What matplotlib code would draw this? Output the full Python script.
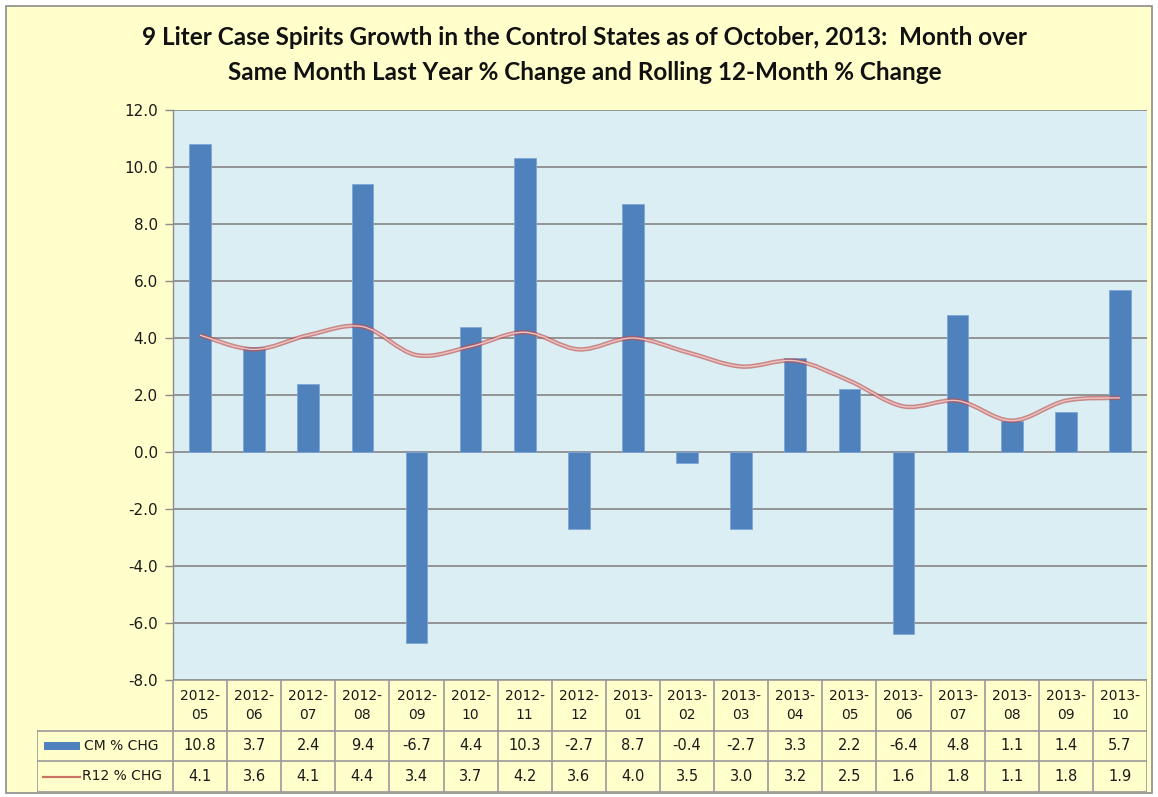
import numpy as np
import matplotlib.pyplot as plt
from matplotlib.path import Path
from matplotlib.patches import PathPatch, Rectangle

# data
months = ["2012-\n05", "2012-\n06", "2012-\n07", "2012-\n08", "2012-\n09", "2012-\n10",
          "2012-\n11", "2012-\n12", "2013-\n01", "2013-\n02", "2013-\n03", "2013-\n04",
          "2013-\n05", "2013-\n06", "2013-\n07", "2013-\n08", "2013-\n09", "2013-\n10"]
cm_chg = [10.8, 3.7, 2.4, 9.4, -6.7, 4.4, 10.3, -2.7, 8.7, -0.4, -2.7, 3.3,
          2.2, -6.4, 4.8, 1.1, 1.4, 5.7]
r12_chg = [4.1, 3.6, 4.1, 4.4, 3.4, 3.7, 4.2, 3.6, 4.0, 3.5, 3.0, 3.2,
           2.5, 1.6, 1.8, 1.1, 1.8, 1.9]
series_names = ["CM % CHG", "R12 % CHG"]
title = ("9 Liter Case Spirits Growth in the Control States as of October, 2013:  Month over\n"
         "Same Month Last Year % Change and Rolling 12-Month % Change")

W, H = 1158, 797
bg = "#FFFFCC"
plot_bg = "#DBEEF4"
bar_col = "#4F81BD"
line_col = "#C0504D"
grid_col = "#8C8C8C"
tab_col = "#9A9A9A"
txt_col = "#1A1A1A"

fig = plt.figure(figsize=(W / 100, H / 100), dpi=100)
fig.patch.set_facecolor("white")
fig.patches.append(Rectangle((6 / W, 4 / H), (W - 12) / W, (H - 10) / H,
                             transform=fig.transFigure, facecolor=bg,
                             edgecolor="#8C8C8C", linewidth=1.2, zorder=-5))

x0, x1 = 173, 1147
ytop, ybot = 110, 680
ax = fig.add_axes([x0 / W, (H - ybot) / H, (x1 - x0) / W, (ybot - ytop) / H])
ax.set_facecolor(plot_bg)
n = len(cm_chg)
x = np.arange(n)

ax.bar(x, cm_chg, width=0.4, color=bar_col, edgecolor="#7EA6D6", linewidth=0.6, zorder=3)

# smoothed line (Catmull-Rom as cubic bezier, like Excel's smoothed line)
pts = np.column_stack([x, r12_chg]).astype(float)
verts = [pts[0]]
codes = [Path.MOVETO]
for i in range(n - 1):
    p_prev = pts[i - 1] if i > 0 else pts[i]
    p_next = pts[i + 2] if i + 2 < n else pts[i + 1]
    c1 = pts[i] + (pts[i + 1] - p_prev) / 6
    c2 = pts[i + 1] - (p_next - pts[i]) / 6
    verts += [c1, c2, pts[i + 1]]
    codes += [Path.CURVE4] * 3
path = Path(verts, codes)
ax.add_patch(PathPatch(path, fill=False, edgecolor=line_col, linewidth=3.2, alpha=0.65, zorder=4))
ax.add_patch(PathPatch(path, fill=False, edgecolor="#EDC4C3", linewidth=1.0, zorder=5))

ax.set_xlim(-0.5, n - 0.5)
ax.set_ylim(-8, 12)
ax.set_yticks(np.arange(-8, 12.1, 2))
ax.set_yticklabels([f"{v:.1f}" for v in np.arange(-8, 12.1, 2)])
ax.set_xticks([])
ax.grid(axis="y", color=grid_col, linewidth=1.3, zorder=1)
ax.set_axisbelow(True)
for s in ["top", "right", "bottom"]:
    ax.spines[s].set_visible(False)
ax.spines["left"].set_color(grid_col)
ax.spines["left"].set_linewidth(1.0)
ax.tick_params(axis="y", direction="out", length=6, width=1, color=grid_col,
               labelsize=11, labelcolor=txt_col, pad=5)

# data table under the chart
tl = 37
unit = (x1 - x0) / n
left_u = -0.5 - (x0 - tl) / unit
tab = fig.add_axes([tl / W, (H - 792) / H, (x1 - tl) / W, (792 - ybot) / H])
tab.set_xlim(left_u, n - 0.5)
tab.set_ylim(112, 0)
tab.axis("off")


def px(p):
    return left_u + (p - tl) / unit


rows = [0, 51, 81, 112]
tab.plot([-0.5, n - 0.5], [0, 0], color=tab_col, lw=1.2)
for r in rows[1:]:
    tab.plot([left_u, n - 0.5], [r, r], color=tab_col, lw=1.2)
for i in range(n + 1):
    tab.plot([i - 0.5, i - 0.5], [0, 112], color=tab_col, lw=1.2)
tab.plot([left_u, left_u], [51, 112], color=tab_col, lw=1.2)

fs = 10.5
for i in range(n):
    tab.text(i, 25.5, months[i], ha="center", va="center", fontsize=fs - 0.5,
             color=txt_col, linespacing=1.5)
    tab.text(i, 66, f"{cm_chg[i]:.1f}", ha="center", va="center", fontsize=fs, color=txt_col)
    tab.text(i, 96.5, f"{r12_chg[i]:.1f}", ha="center", va="center", fontsize=fs, color=txt_col)

tab.add_patch(Rectangle((px(44), 62), px(80) - px(44), 8, facecolor=bar_col, edgecolor="none"))
tab.plot([px(43), px(80)], [96.5, 96.5], color=line_col, lw=1.6, alpha=0.8)
tab.text(px(84), 66, series_names[0], ha="left", va="center", fontsize=fs - 0.5, color=txt_col)
tab.text(px(82), 96.5, series_names[1], ha="left", va="center", fontsize=fs - 0.5, color=txt_col)

fig.text(585 / W, 1 - 55 / H, title, ha="center", va="center", fontsize=17.5,
         fontweight="bold", family=["Lato", "DejaVu Sans"], linespacing=1.62, color="#111111")

fig.savefig("out.png", dpi=100, facecolor=fig.get_facecolor())
